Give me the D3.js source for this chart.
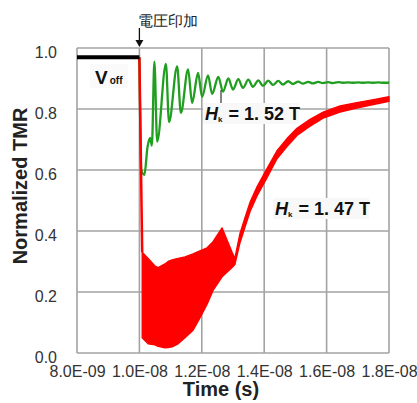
<!DOCTYPE html>
<html>
<head>
<meta charset="utf-8">
<script src="https://cdn.jsdelivr.net/npm/d3@7/dist/d3.min.js"></script>
<style>
  html, body { margin: 0; padding: 0; background: #fff; }
  svg { display: block; }
  text { font-family: "Liberation Sans", Arial, sans-serif; }
</style>
</head>
<body>
<svg id="chart" width="417" height="403"></svg>
<script>
// Time in ns, TMR normalised to the initial state
const xTicks = [8, 10, 12, 14, 16, 18];
const xTickLabels = ["8.0E-09", "1.0E-08", "1.2E-08", "1.4E-08", "1.6E-08", "1.8E-08"];
const yTicks = [0, 0.2, 0.4, 0.6, 0.8, 1.0];
const yTickLabels = ["0.0", "0.2", "0.4", "0.6", "0.8", "1.0"];

// Before the voltage pulse (V_off)
const voffT = [8, 10];
const voffV = [0.97, 0.97];

// H_k = 1.52 T trace
const greenT = [10.0, 10.06, 10.16, 10.26, 10.34, 10.40, 10.48, 10.57,
  10.85, 10.95, 11.21, 11.33, 11.56, 11.69, 11.88, 12.01, 12.20, 12.33,
  12.53, 12.68, 12.85, 13.0, 13.17, 13.32, 13.49, 13.64, 13.81, 13.96,
  14.13, 14.28, 14.45, 14.60, 14.77, 14.92, 15.09, 15.24, 15.41, 15.56,
  15.73, 15.88, 16.05, 16.2, 16.37, 16.52, 16.69, 16.84, 17.01, 17.16,
  17.33, 17.48, 17.65, 17.8, 18.0];
const greenV = [0.97, 0.60, 0.584, 0.675, 0.705, 0.68, 0.955, 0.693,
  0.948, 0.757, 0.94, 0.787, 0.93, 0.82, 0.918, 0.84, 0.91, 0.85,
  0.905, 0.857, 0.90, 0.864, 0.898, 0.869, 0.896, 0.873, 0.894, 0.876,
  0.893, 0.879, 0.892, 0.88, 0.891, 0.882, 0.890, 0.883, 0.889, 0.884,
  0.889, 0.885, 0.888, 0.885, 0.888, 0.886, 0.887, 0.886, 0.887, 0.886,
  0.887, 0.886, 0.887, 0.886, 0.886];

// H_k = 1.47 T trace: initial drop, then the oscillation envelope
const redDropT = [10.0, 10.09];
const redDropV = [0.97, 0.33];
const redT = [10.09, 10.28, 10.5, 10.6, 10.82, 10.92, 11.05, 11.24, 11.46, 11.72,
  11.94, 12.17, 12.36, 12.65, 12.97, 13.06, 13.22, 13.39, 13.55, 13.77,
  14.09, 14.41, 14.73, 15.05, 15.47, 15.89, 16.43, 16.97, 17.46, 18.0];
const redHigh = [0.33, 0.31, 0.285, 0.28, 0.292, 0.30, 0.305, 0.31, 0.315, 0.325,
  0.335, 0.345, 0.365, 0.41, 0.33, 0.31, 0.39, 0.445, 0.495, 0.545,
  0.605, 0.663, 0.703, 0.737, 0.766, 0.79, 0.81, 0.821, 0.83, 0.84];
const redLow = [0.05, 0.03, 0.027, 0.022, 0.017, 0.018, 0.02, 0.03, 0.05, 0.075,
  0.115, 0.16, 0.205, 0.25, 0.28, 0.29, 0.36, 0.415, 0.465, 0.515,
  0.575, 0.637, 0.677, 0.713, 0.744, 0.77, 0.79, 0.803, 0.814, 0.825];

const svg = d3.select("#chart");
const plot = { left: 77, right: 389, top: 48, bottom: 353 };

const x = d3.scaleLinear().domain([8, 18]).range([plot.left, plot.right]);
const y = d3.scaleLinear().domain([0, 1]).range([plot.bottom, plot.top]);

const gridColor = "#a3a3a3";

// Grid
const grid = svg.append("g");
grid.selectAll("line.v").data(xTicks).join("line")
  .attr("x1", d => x(d)).attr("x2", d => x(d))
  .attr("y1", plot.top).attr("y2", plot.bottom)
  .attr("stroke", gridColor).attr("stroke-width", 1.6);
grid.selectAll("line.h").data(yTicks).join("line")
  .attr("x1", plot.left).attr("x2", plot.right)
  .attr("y1", d => y(d)).attr("y2", d => y(d))
  .attr("stroke", gridColor).attr("stroke-width", 1.6);

// Axes (labels only, the grid provides the frame)
const xAxis = d3.axisBottom(x).tickValues(xTicks)
  .tickFormat((d, i) => xTickLabels[i]).tickSize(0).tickPadding(0);
const gx = svg.append("g").attr("transform", `translate(0,${plot.bottom})`).call(xAxis);
gx.select(".domain").remove();
gx.selectAll("text").attr("dy", null).attr("y", 24)
  .attr("font-size", 16).attr("fill", "#333");

const yAxis = d3.axisLeft(y).tickValues(yTicks)
  .tickFormat((d, i) => yTickLabels[i]).tickSize(0).tickPadding(0);
const gy = svg.append("g").attr("transform", `translate(${plot.left - 20},0)`).call(yAxis);
gy.select(".domain").remove();
gy.selectAll("text").attr("dy", "0.45em").attr("y", 2)
  .attr("font-size", 16).attr("fill", "#333");

// Axis titles
svg.append("text")
  .attr("x", 221).attr("y", 396)
  .attr("text-anchor", "middle")
  .attr("font-size", 20).attr("font-weight", "bold").attr("fill", "#222")
  .text("Time (s)");
svg.append("text")
  .attr("transform", "translate(27,186) rotate(-90)")
  .attr("text-anchor", "middle")
  .attr("font-size", 20).attr("font-weight", "bold").attr("fill", "#222")
  .text("Normalized TMR");

const line = d3.line().x(d => x(d[0])).y(d => y(d[1]));
const zip = (a, b) => a.map((t, i) => [t, b[i]]);

// Green trace
svg.append("path")
  .datum(zip(greenT, greenV))
  .attr("d", line.curve(d3.curveMonotoneX))
  .attr("fill", "none").attr("stroke", "#1f9e1f").attr("stroke-width", 2.3)
  .attr("stroke-linejoin", "round");

// Red trace
const redBand = redT.map((t, i) => ({ t, lo: redLow[i], hi: redHigh[i] }));
svg.append("path")
  .datum(redBand)
  .attr("d", d3.area().x(d => x(d.t)).y0(d => y(d.lo)).y1(d => y(d.hi)))
  .attr("fill", "#ff0000").attr("stroke", "#ff0000").attr("stroke-width", 1.4)
  .attr("stroke-linejoin", "round");
svg.append("path")
  .datum(zip(redDropT, redDropV))
  .attr("d", line.curve(d3.curveLinear))
  .attr("fill", "none").attr("stroke", "#ff0000").attr("stroke-width", 2.5);

// V_off level
svg.append("path")
  .datum(zip(voffT, voffV))
  .attr("d", line.curve(d3.curveLinear))
  .attr("fill", "none").attr("stroke", "#000").attr("stroke-width", 4);

// V_off label
svg.append("rect").attr("x", 90).attr("y", 64).attr("width", 38).attr("height", 24)
  .attr("fill", "#fafafa");
const voff = svg.append("text").attr("x", 95).attr("y", 84)
  .attr("font-weight", "bold").attr("fill", "#111");
voff.append("tspan").attr("font-size", 19).text("V");
voff.append("tspan").attr("font-size", 10).attr("dx", 2).text("off");

// H_k labels
function hkLabel(bx, by, value) {
  svg.append("rect").attr("x", bx).attr("y", by).attr("width", 96).attr("height", 21)
    .attr("fill", "#f8f8f8");
  const t = svg.append("text").attr("x", bx + 2).attr("y", by + 17)
    .attr("font-weight", "bold").attr("fill", "#111").attr("font-size", 18);
  t.append("tspan").attr("font-style", "italic").text("H");
  t.append("tspan").attr("font-size", 8).attr("dy", 2).text("k");
  t.append("tspan").attr("dy", -2).attr("dx", 1).text(" = " + value + " T");
}
svg.append("line").attr("x1", 221).attr("x2", 221).attr("y1", 90).attr("y2", 103)
  .attr("stroke", "#333").attr("stroke-width", 1.2);
hkLabel(203, 103, "1. 52");
hkLabel(273, 198, "1. 47");

// Voltage application marker
const markX = x(10);
svg.append("line").attr("x1", markX).attr("x2", markX).attr("y1", 28).attr("y2", 41)
  .attr("stroke", "#111").attr("stroke-width", 1.3);
svg.append("path")
  .attr("d", `M${markX - 4},40 L${markX + 4},40 L${markX},47 Z`)
  .attr("fill", "#111");
svg.append("text").attr("x", markX - 1).attr("y", 26)
  .attr("font-family", "'Noto Sans CJK JP', sans-serif")
  .attr("font-size", 15).attr("fill", "#222")
  .text("電圧印加");
</script>
</body>
</html>
